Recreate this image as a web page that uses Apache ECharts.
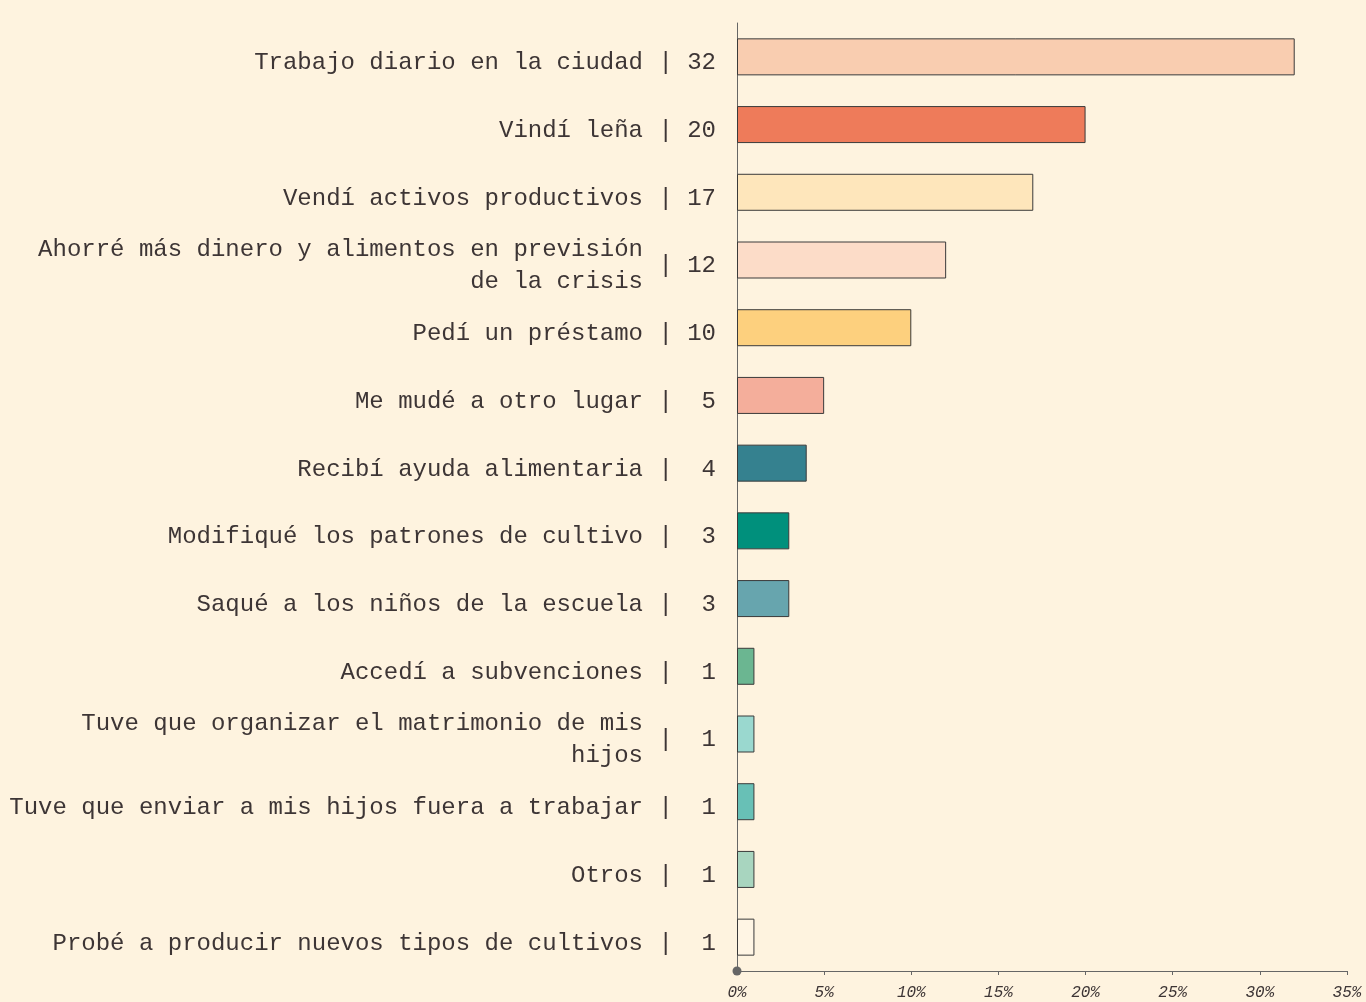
<!DOCTYPE html>
<html>
<head>
<meta charset="utf-8">
<script src="https://cdn.jsdelivr.net/npm/echarts@6/dist/echarts.min.js"></script>
<style>
html,body{margin:0;padding:0;background:#fef3df;}
#chart{width:1366px;height:1002px;}
</style>
</head>
<body>
<div id="chart"></div>
<script>
const categories = [
  "Trabajo diario en la ciudad",
  "Vindí leña",
  "Vendí activos productivos",
  "Ahorré más dinero y alimentos en previsión\nde la crisis",
  "Pedí un préstamo",
  "Me mudé a otro lugar",
  "Recibí ayuda alimentaria",
  "Modifiqué los patrones de cultivo",
  "Saqué a los niños de la escuela",
  "Accedí a subvenciones",
  "Tuve que organizar el matrimonio de mis\nhijos",
  "Tuve que enviar a mis hijos fuera a trabajar",
  "Otros",
  "Probé a producir nuevos tipos de cultivos"
];
const values = [32, 20, 17, 12, 10, 5, 4, 3, 3, 1, 1, 1, 1, 1];
const barColors = [
  "#f9cdb0", "#ee7b5a", "#fee6bb", "#fcdcc8", "#fdd07e", "#f4ae9b", "#35818f",
  "#00907c", "#67a5ae", "#6bb691", "#9ad8cf", "#68c0b6", "#a8d5bf", "#fff5e4"
];
const xTicks = [0, 5, 10, 15, 20, 25, 30, 35];

const textColor = "#3d3535";
const fontMono = 'Liberation Mono, monospace';
const chart = echarts.init(document.getElementById('chart'), null, {renderer: 'canvas'});
chart.setOption({
  backgroundColor: "#fef3df",
  animation: false,
  grid: {left: 737, right: 19, top: 23, bottom: 31, containLabel: false},
  xAxis: {
    type: 'value',
    min: xTicks[0],
    max: xTicks[xTicks.length - 1],
    interval: 5,
    axisLine: {show: true, lineStyle: {color: "#666", width: 1}, symbol: ['circle', 'none'], symbolSize: [9, 9]},
    axisTick: {show: true, length: 4, inside: false, lineStyle: {color: "#666"}},
    splitLine: {show: false},
    axisLabel: {
      formatter: '{value}%',
      fontFamily: fontMono,
      fontStyle: 'italic',
      fontSize: 16,
      color: textColor,
      margin: 14
    }
  },
  yAxis: {
    type: 'category',
    inverse: true,
    data: categories,
    axisLine: {show: true, lineStyle: {color: "#666", width: 1}},
    axisTick: {show: false},
    axisLabel: {show: false}
  },
  series: [{
    type: 'bar',
    data: values.map((v, i) => ({value: v, itemStyle: {color: barColors[i]}})),
    barWidth: 37,
    itemStyle: {borderColor: "#3a3a3a", borderWidth: 1},
    label: {
      show: true,
      position: 'left',
      distance: 21,
      offset: [0, 6],
      fontFamily: fontMono,
      fontSize: 24,
      color: textColor,
      formatter: p => '| ' + String(p.value).padStart(2, ' ')
    }
  }, {
    type: 'bar',
    data: values,
    barWidth: 37,
    barGap: '-100%',
    silent: true,
    z: 1,
    itemStyle: {color: 'rgba(0,0,0,0)', borderWidth: 0},
    label: {
      show: true,
      position: 'left',
      distance: 94,
      offset: [0, 6],
      fontFamily: fontMono,
      fontSize: 24,
      lineHeight: 32,
      align: 'right',
      color: textColor,
      formatter: p => p.name
    }
  }]
});
</script>
</body>
</html>
